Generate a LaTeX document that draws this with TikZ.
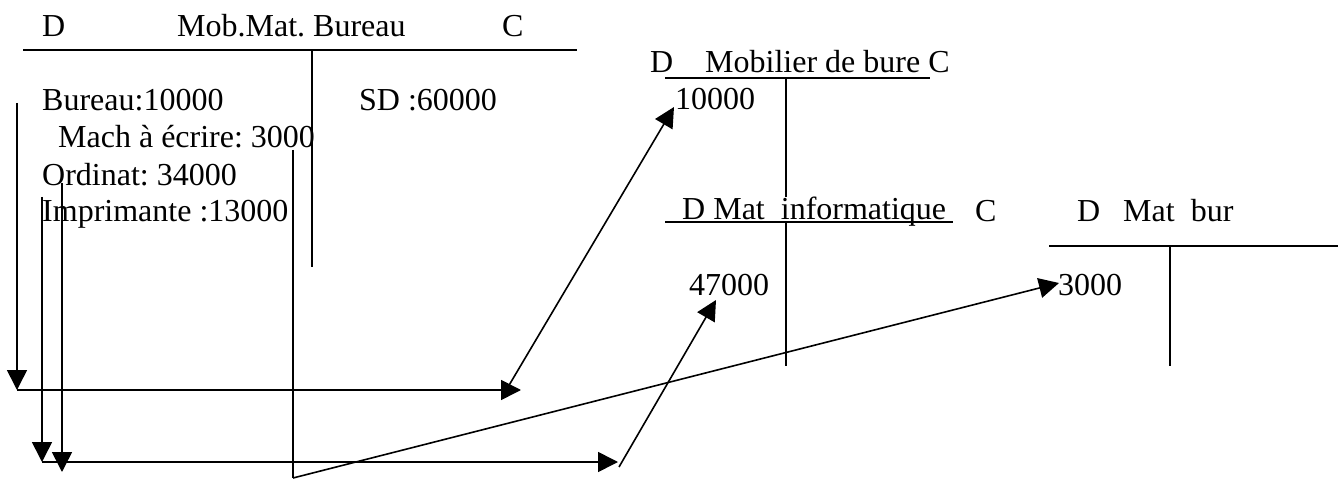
\documentclass[tikz,border=0pt]{standalone}
\usepackage{fontspec}
\setmainfont{Liberation Serif}
\usetikzlibrary{arrows.meta}
\begin{document}
\frenchspacing
\begin{tikzpicture}[x=1pt,y=-1pt,
  txt/.style={inner sep=0pt,anchor=base west,font=\fontsize{32}{38}\selectfont\frenchspacing},
  rule/.style={line width=1.8pt},
  conn/.style={line width=1.6pt},
  arr/.style={line width=1.6pt,-{Triangle[length=20pt,width=20pt]}}]
\useasboundingbox (0,0) rectangle (1339,481);
% top account
\node[txt] (d1) at (42,37) {D};
\node[txt] (t1) at (177,37) {Mob.Mat. Bureau};
\node[txt] (c1) at (502,37) {C};
\coordinate (h1a) at (23,50); \coordinate (h1b) at (577,50);
\coordinate (v1a) at (312,50); \coordinate (v1b) at (312,267);
\draw[rule] (h1a) -- (h1b);
\draw[rule] (v1a) -- (v1b);
\node[txt] (e1) at (42,111) {Bureau:10000};
\node[txt] (sd) at (359,111) {SD :60000};
\node[txt] (e2) at (58,148) {Mach à écrire: 3000};
\node[txt] (e3) at (42,186) {Ordinat: 34000};
\node[txt] (e4) at (42,222) {Imprimante :13000};
% Mobilier de bure
\node[txt] (d2) at (650,73) {D};
\node[txt] (t2) at (705,73) {Mobilier de bure C};
\coordinate (h2a) at (665,78); \coordinate (h2b) at (930,78);
\coordinate (v2a) at (786,78); \coordinate (v2b) at (786,197);
\draw[rule] (h2a) -- (h2b);
\draw[rule] (v2a) -- (v2b);
\node[txt] (m1) at (675,110) {10000};
% Mat informatique
\node[txt] (t3) at (682,220) {D Mat\ \ informatique};
\node[txt] (c3) at (975,222) {C};
\coordinate (h3a) at (665,222); \coordinate (h3b) at (953,222);
\coordinate (v3a) at (786,222); \coordinate (v3b) at (786,366);
\draw[rule] (h3a) -- (h3b);
\draw[rule] (v3a) -- (v3b);
\node[txt] (m2) at (689,295) {47000};
% Mat bur
\node[txt] (d4) at (1077,222) {D};
\node[txt] (t4) at (1123,222) {Mat\ \ bur};
\coordinate (h4a) at (1049,246); \coordinate (h4b) at (1338,246);
\coordinate (v4a) at (1170,246); \coordinate (v4b) at (1170,366);
\draw[rule] (h4a) -- (h4b);
\draw[rule] (v4a) -- (v4b);
\node[txt] (m3) at (1058,295) {3000};
% connectors
\coordinate (a1) at (17,103); \coordinate (a2) at (17,390); \coordinate (a3) at (521,390);
\draw[arr] (a1) -- (a2);
\draw[arr] (a2) -- (a3);
\coordinate (b1) at (42,197); \coordinate (b2) at (42,462); \coordinate (b3) at (618,462);
\draw[arr] (b1) -- (b2);
\draw[arr] (b2) -- (b3);
\coordinate (g1) at (62,183); \coordinate (g2) at (62,472);
\draw[arr] (g1) -- (g2);
\coordinate (k1) at (293,150); \coordinate (k2) at (293,478); \coordinate (k3) at (1059,283);
\draw[conn] (k1) -- (k2);
\draw[arr] (k2) -- (k3);
\coordinate (q1) at (508,387); \coordinate (q2) at (674,107);
\draw[arr] (q1) -- (q2);
\coordinate (r1) at (619,467); \coordinate (r2) at (716,300);
\draw[arr] (r1) -- (r2);
\end{tikzpicture}
\end{document}
